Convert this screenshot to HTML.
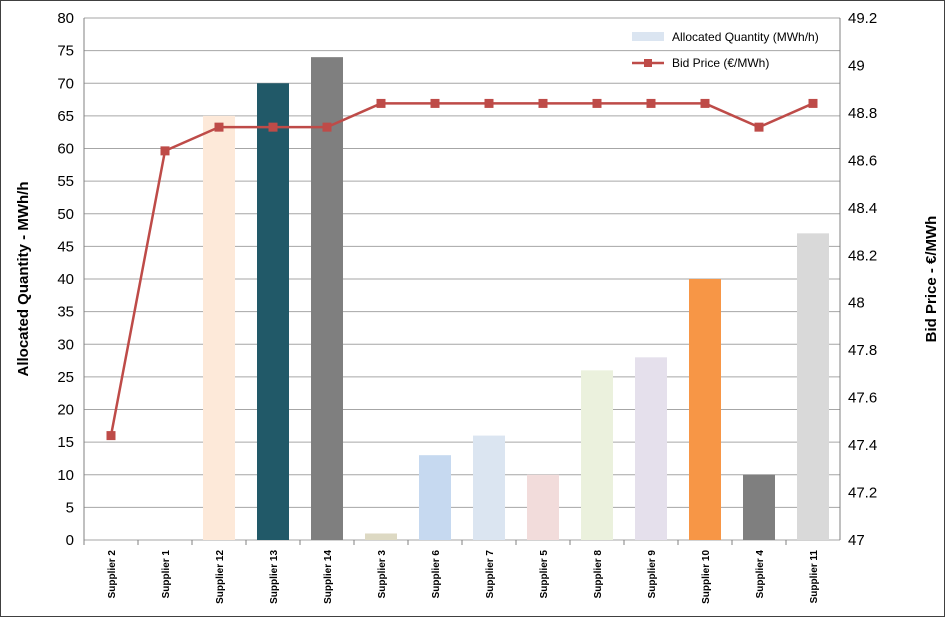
<!DOCTYPE html>
<html><head><meta charset="utf-8"><style>
body{margin:0;background:#fff;}
svg{display:block;font-family:"Liberation Sans",sans-serif;}
</style></head><body>
<svg id="chart" width="945" height="617" viewBox="0 0 945 617">
<rect x="0.5" y="0.5" width="944" height="616" fill="#fff" stroke="#404040" stroke-width="1"/>
<g id="grid"></g><g id="bars"></g><g id="line"></g><g id="axes"></g>
<text transform="translate(28,279) rotate(-90)" text-anchor="middle" font-size="15" font-weight="bold">Allocated Quantity - MWh/h</text>
<text transform="translate(936,279) rotate(-90)" text-anchor="middle" font-size="15" font-weight="bold">Bid Price - €/MWh</text>
<g>
<rect x="632" y="32" width="32" height="9" fill="#dbe5f1"/>
<text x="672" y="41" font-size="12">Allocated Quantity (MWh/h)</text>
<line x1="632" y1="63" x2="664" y2="63" stroke="#be4b48" stroke-width="2.5"/>
<rect x="644" y="59" width="8" height="8" fill="#be4b48"/>
<text x="672" y="67" font-size="12">Bid Price (€/MWh)</text>
</g>
</svg>
<script>
const categories=["Supplier 2","Supplier 1","Supplier 12","Supplier 13","Supplier 14","Supplier 3","Supplier 6","Supplier 7","Supplier 5","Supplier 8","Supplier 9","Supplier 10","Supplier 4","Supplier 11"];
const quantities=[0,0,65,70,74,1,13,16,10,26,28,40,10,47];
const prices=[47.44,48.64,48.74,48.74,48.74,48.84,48.84,48.84,48.84,48.84,48.84,48.84,48.74,48.84];
const barColors=["#dbe5f1","#dbe5f1","#fde9d9","#215968","#7f7f7f","#ddd9c3","#c6d9f0","#dbe5f1","#f2dcdb","#ebf1dd","#e5e0ec","#f79646","#7f7f7f","#d9d9d9"];
const leftTicks=[0,5,10,15,20,25,30,35,40,45,50,55,60,65,70,75,80];
const rightTicks=["47","47.2","47.4","47.6","47.8","48","48.2","48.4","48.6","48.8","49","49.2"];
const NS="http://www.w3.org/2000/svg";
const L=84,R=840,T=18,B=540;
const yL=v=>B-(v-0)/(80-0)*(B-T);
const yR=v=>B-(v-47)/(49.2-47)*(B-T);
const band=(R-L)/categories.length;
const xC=i=>L+band*(i+0.5);
function mk(tag,attrs,parent){const e=document.createElementNS(NS,tag);for(const k in attrs)e.setAttribute(k,attrs[k]);document.getElementById(parent).appendChild(e);return e;}
leftTicks.forEach(t=>{
 const g=mk("line",{x1:L,x2:R,y1:yL(t),y2:yL(t),stroke:"#a6a6a6","stroke-width":1},"grid");
 
 
 const tx=mk("text",{x:L-10,y:yL(t)+5,"text-anchor":"end","font-size":15},"axes");
 tx.textContent=t;
 
 
});
rightTicks.forEach(t=>{
 const tx=mk("text",{x:R+8,y:yR(parseFloat(t))+5,"font-size":15},"axes");
 tx.textContent=t;
 
 
});
const ax1=mk("line",{x1:L,x2:L,y1:T,y2:B,stroke:"#808080"},"axes");


const ax2=mk("line",{x1:R,x2:R,y1:T,y2:B,stroke:"#808080"},"axes");


categories.forEach((c,i)=>{
 const tk=mk("line",{x1:L+band*i,x2:L+band*i,y1:B,y2:B+5,stroke:"#808080"},"axes");
 
 
 const tx=mk("text",{transform:`translate(${xC(i)+4},${B+10}) rotate(-90)`,"text-anchor":"end","font-size":10,"font-weight":"bold"},"axes");
 tx.textContent=c;
 
 
 const bw=32;
 const b=mk("rect",{x:xC(i)-bw/2,y:yL(quantities[i]),width:bw,height:yL(0)-yL(quantities[i]),fill:barColors[i]},"bars");
 
 
});
const pl=mk("polyline",{points:prices.map((p,i)=>xC(i)+","+yR(p)).join(" "),fill:"none",stroke:"#be4b48","stroke-width":2.5},"line");


prices.forEach((p,i)=>{
 const m=mk("rect",{x:xC(i)-4.5,y:yR(p)-4.5,width:9,height:9,fill:"#be4b48"},"line");
 
 
});
</script>
</body></html>
